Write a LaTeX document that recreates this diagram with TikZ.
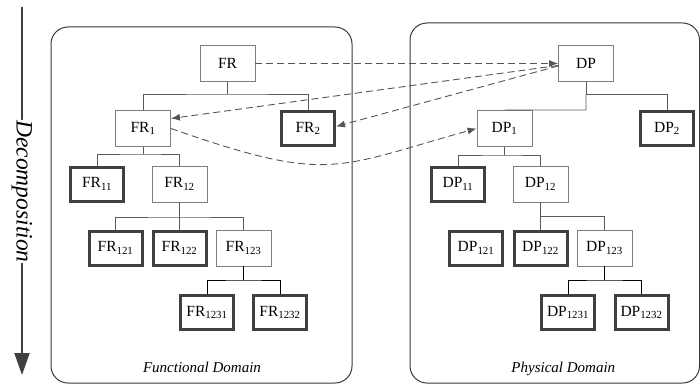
\documentclass[tikz,border=0pt]{standalone}
\usepackage{fontspec}
\setmainfont{Liberation Serif}
\usetikzlibrary{arrows.meta}
\definecolor{thinc}{HTML}{7F7F7F}
\definecolor{thickc}{HTML}{404040}
\definecolor{connc}{HTML}{5A5A5A}
\definecolor{panelc}{HTML}{3A3A3A}
\definecolor{dashc}{HTML}{555555}
\tikzset{
  box/.style={draw=thinc, line width=0.9pt, minimum width=55pt, minimum height=36pt, inner sep=0pt, fill=white, font=\fontsize{15.5}{18}\selectfont},
  tbox/.style={box, draw=thickc, line width=3pt, minimum width=53pt, minimum height=34pt},
  conn/.style={draw=connc, line width=0.9pt},
  bconn/.style={draw=black, line width=1pt},
  dashline/.style={draw=dashc, line width=0.9pt, dash pattern=on 7pt off 4pt, -{Latex[length=9pt,width=7pt]}},
  panel/.style={draw=panelc, line width=1pt, rounded corners=17pt},
  domlabel/.style={font=\fontsize{15}{18}\selectfont\itshape, anchor=base, inner sep=0pt}
}
\begin{document}
\begin{tikzpicture}[x=1pt,y=-1pt]
\useasboundingbox (0,0) rectangle (700,385);

% panels
\draw[panel] (51,27) rectangle (352,383);
\draw[panel] (410,23) rectangle (699.5,383);

% decomposition arrow
\node[rotate=-90, inner sep=0pt, font=\fontsize{23.5}{26}\selectfont\itshape] (dec) at (22,191.5) {Decomposition};
\coordinate (dectop) at (22,7);
\coordinate (decbot) at (22,375);
\draw[draw=thickc, line width=2pt] (dectop) -- (dec.west);
\draw[draw=thickc, line width=2pt, -{Triangle[width=15pt,length=22pt]}] (dec.east) -- (decbot);

% functional domain nodes
\node[box]  (FR)     at (227.5,63.5) {FR};
\node[box]  (FR1)    at (143,128.5) {FR\textsubscript{1}};
\node[tbox] (FR2)    at (308,128.5) {FR\textsubscript{2}};
\node[tbox] (FR11)   at (97,184) {FR\textsubscript{11}};
\node[box]  (FR12)   at (179.5,184) {FR\textsubscript{12}};
\node[tbox] (FR121)  at (115.5,248) {FR\textsubscript{121}};
\node[tbox] (FR122)  at (179.5,248) {FR\textsubscript{122}};
\node[box]  (FR123)  at (243.5,248) {FR\textsubscript{123}};
\node[tbox] (FR1231) at (207,312.5) {FR\textsubscript{1231}};
\node[tbox] (FR1232) at (280,312.5) {FR\textsubscript{1232}};

% physical domain nodes
\node[box]  (DP)     at (586,63.5) {DP};
\node[box]  (DP1)    at (504.5,128.5) {DP\textsubscript{1}};
\node[tbox] (DP2)    at (667,128.5) {DP\textsubscript{2}};
\node[tbox] (DP11)   at (458,184) {DP\textsubscript{11}};
\node[box]  (DP12)   at (540.5,184) {DP\textsubscript{12}};
\node[tbox] (DP121)  at (476,248) {DP\textsubscript{121}};
\node[tbox] (DP122)  at (540.5,248) {DP\textsubscript{122}};
\node[box]  (DP123)  at (604.5,248) {DP\textsubscript{123}};
\node[tbox] (DP1231) at (568,312.5) {DP\textsubscript{1231}};
\node[tbox] (DP1232) at (641.5,312.5) {DP\textsubscript{1232}};

% fork points
\coordinate (f0)   at (227.5,94);
\coordinate (f1)   at (143,154);
\coordinate (f12)  at (179.5,217);
\coordinate (f123) at (243.5,280);
\coordinate (d0)   at (586,94);
\coordinate (d0b)  at (586,110);
\coordinate (d1)   at (504.5,155);
\coordinate (d12)  at (540.5,216);
\coordinate (d123) at (604.5,280);

% functional tree connectors
\draw[conn] (FR.south) -- (f0);
\draw[conn] (FR1.north) |- (f0) -| (FR2.north);
\draw[conn] (FR1.south) -- (f1);
\draw[conn] (FR11.north) |- (f1) -| (FR12.north);
\draw[conn] (FR12.south) -- (FR122.north);
\draw[conn] (FR121.north) |- (f12) -| (FR123.north);
\draw[bconn] (FR123.south) -- (f123);
\draw[bconn] (FR1231.north) |- (f123) -| (FR1232.north);

% physical tree connectors
\draw[conn] (DP.south) -- (d0) -| (DP2.north);
\draw[conn] (d0) -- (d0b) -- (DP1.north);
\draw[conn] (DP1.south) -- (d1);
\draw[conn] (DP11.north) |- (d1) -| (DP12.north);
\draw[conn] (DP12.south) -- (DP122.north);
\draw[conn] (d12) -| (DP123.north);
\draw[bconn] (DP123.south) -- (d123);
\draw[bconn] (DP1231.north) |- (d123) -| (DP1232.north);

% mapping arrows
\draw[dashline] (FR.east) -- (DP.west);
\draw[dashline] ([yshift=-2pt]DP.west) -- ([yshift=10pt]FR1.east);
\draw[dashline] ([yshift=-2.5pt]DP.west) -- ([yshift=2pt]FR2.east);
\draw[dashline] (FR1.east) .. controls (330,184) and (334,168) .. (DP1.west);

% domain labels
\node[domlabel] (fdl) at (202,372.7) {Functional Domain};
\node[domlabel] (pdl) at (563.3,372.7) {Physical Domain};
\end{tikzpicture}
\end{document}
